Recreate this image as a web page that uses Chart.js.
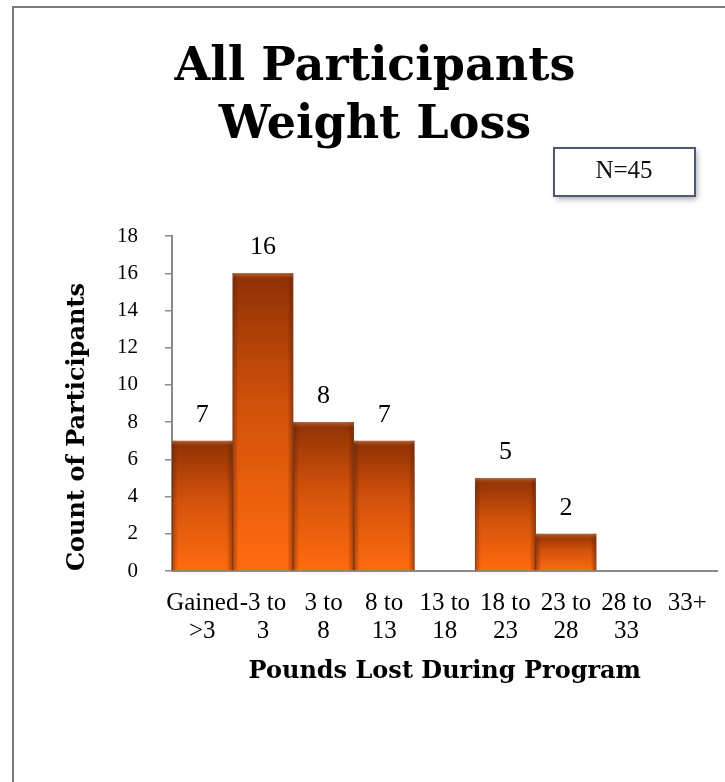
<!DOCTYPE html>
<html>
<head>
<meta charset="utf-8">
<script src="https://cdn.jsdelivr.net/npm/chart.js@4/dist/chart.umd.min.js"></script>
<style>
  html, body { margin: 0; padding: 0; background: #fff; }
  #wrap { position: relative; width: 725px; height: 782px; overflow: hidden; }
  #frame { position: absolute; left: 12px; top: 6px; width: 800px; height: 900px;
           border-left: 2px solid #7b7b7b; border-top: 2px solid #7b7b7b; }
  canvas { position: absolute; left: 0; top: 0; }
</style>
</head>
<body>
<div id="wrap">
  <div id="frame"></div>
  <canvas id="myChart" width="725" height="782"></canvas>
</div>
<script>
const categories = [
    ["Gained", ">3"],
    ["-3 to", "3"],
    ["3 to", "8"],
    ["8 to", "13"],
    ["13 to", "18"],
    ["18 to", "23"],
    ["23 to", "28"],
    ["28 to", "33"],
    ["33+"],
];
const counts = [7, 16, 8, 7, 0, 5, 2, 0, 0];
const yTicks = [0, 2, 4, 6, 8, 10, 12, 14, 16, 18];
const sampleNote = "N=45";

const serif = "'Liberation Serif', 'Times New Roman', serif";
const boldSerif = "'DejaVu Serif', serif";

// vertical orange gradient per bar, dark at the top
function barFill(context) {
    const { ctx, chartArea, scales } = context.chart;
    if (!chartArea || !scales.y) return "#e0580c";
    const top = scales.y.getPixelForValue(context.raw);
    const base = scales.y.getPixelForValue(0);
    if (base - top < 1) return "#e0580c";
    const g = ctx.createLinearGradient(0, top, 0, base);
    g.addColorStop(0, "#8e3104");
    g.addColorStop(0.45, "#d2520b");
    g.addColorStop(1, "#ff6b0f");
    return g;
}

const bevel = {
    id: "bevel",
    afterDatasetsDraw(chart) {
        const ctx = chart.ctx;
        chart.getDatasetMeta(0).data.forEach((bar, i) => {
            if (!counts[i]) return;
            const { x, y, base, width } = bar.getProps(["x", "y", "base", "width"], true);
            const l = x - width / 2, r = x + width / 2, h = base - y;
            const e = 6;
            ctx.save();
            let g = ctx.createLinearGradient(l, 0, l + e, 0);
            g.addColorStop(0, "rgba(90,25,0,0.45)");
            g.addColorStop(1, "rgba(90,25,0,0)");
            ctx.fillStyle = g;
            ctx.fillRect(l, y, e, h);
            g = ctx.createLinearGradient(r - e, 0, r, 0);
            g.addColorStop(0, "rgba(90,25,0,0)");
            g.addColorStop(1, "rgba(90,25,0,0.5)");
            ctx.fillStyle = g;
            ctx.fillRect(r - e, y, e, h);
            g = ctx.createLinearGradient(0, y, 0, y + 5);
            g.addColorStop(0, "rgba(255,170,110,0.35)");
            g.addColorStop(1, "rgba(255,170,110,0)");
            ctx.fillStyle = g;
            ctx.fillRect(l, y, width, 5);
            ctx.restore();
        });
    },
};

const valueLabels = {
    id: "valueLabels",
    afterDatasetsDraw(chart) {
        const ctx = chart.ctx;
        ctx.save();
        ctx.font = "26px " + serif;
        ctx.fillStyle = "#000";
        ctx.textAlign = "center";
        ctx.textBaseline = "middle";
        chart.getDatasetMeta(0).data.forEach((bar, i) => {
            if (!counts[i]) return;
            ctx.fillText(String(counts[i]), bar.x, bar.y - 26);
        });
        ctx.restore();
    },
};

const noteBox = {
    id: "noteBox",
    afterDraw(chart) {
        const ctx = chart.ctx;
        ctx.save();
        ctx.shadowColor = "rgba(0,0,0,0.35)";
        ctx.shadowBlur = 6;
        ctx.shadowOffsetX = 2;
        ctx.shadowOffsetY = 3;
        ctx.fillStyle = "#fff";
        ctx.fillRect(554, 148, 141, 48);
        ctx.shadowColor = "transparent";
        ctx.strokeStyle = "#4f5677";
        ctx.lineWidth = 2;
        ctx.strokeRect(554, 148, 141, 48);
        ctx.fillStyle = "#111";
        ctx.font = "25px " + serif;
        ctx.textAlign = "center";
        ctx.textBaseline = "middle";
        ctx.fillText(sampleNote, 624, 171);
        ctx.restore();
    },
};

const config = {
    type: "bar",
    data: {
        labels: categories,
        datasets: [
            {
                data: counts,
                backgroundColor: barFill,
                borderColor: "rgba(110,38,0,0.75)",
                borderWidth: 1,
                categoryPercentage: 1,
                barPercentage: 1,
            },
        ],
    },
    options: {
        responsive: false,
        animation: false,
        layout: { padding: { left: 29, right: 4, top: 0, bottom: 0 } },
        plugins: {
            legend: { display: false },
            tooltip: { enabled: false },
            title: {
                display: true,
                text: ["All Participants", "Weight Loss"],
                color: "#000",
                font: { family: boldSerif, size: 46, weight: "bold", lineHeight: 1.24 },
                padding: { top: 40, bottom: 82 },
            },
        },
        scales: {
            x: {
                grid: { drawOnChartArea: false, drawTicks: false },
                border: { color: "#8a8a8a", width: 2 },
                ticks: {
                    color: "#000",
                    font: { family: serif, size: 25, lineHeight: 1.14 },
                    padding: 18,
                    maxRotation: 0,
                    autoSkip: false,
                },
                title: {
                    display: true,
                    text: "Pounds Lost During Program",
                    color: "#000",
                    font: { family: boldSerif, size: 24, weight: "bold", lineHeight: 1.2 },
                    padding: { top: 0, bottom: 96 },
                },
                afterFit(scale) { scale.height = 211; },
            },
            y: {
                min: 0,
                max: 18,
                afterBuildTicks(scale) { scale.ticks = yTicks.map(v => ({ value: v })); },
                grid: { drawOnChartArea: false, tickLength: 7, color: "#8a8a8a", lineWidth: 1.5 },
                border: { color: "#8a8a8a", width: 2 },
                ticks: {
                    color: "#000",
                    font: { family: serif, size: 21 },
                    padding: 27,
                },
                title: {
                    display: true,
                    text: "Count of Participants",
                    align: "start",
                    color: "#000",
                    font: { family: boldSerif, size: 24, weight: "bold", lineHeight: 1.2 },
                    padding: { top: 34, bottom: 0 },
                },
                afterFit(scale) { scale.width = 143; },
            },
        },
    },
    plugins: [bevel, valueLabels, noteBox],
};

const ctx = document.getElementById("myChart").getContext("2d");
const myChart = new Chart(ctx, config);
</script>
</body>
</html>
